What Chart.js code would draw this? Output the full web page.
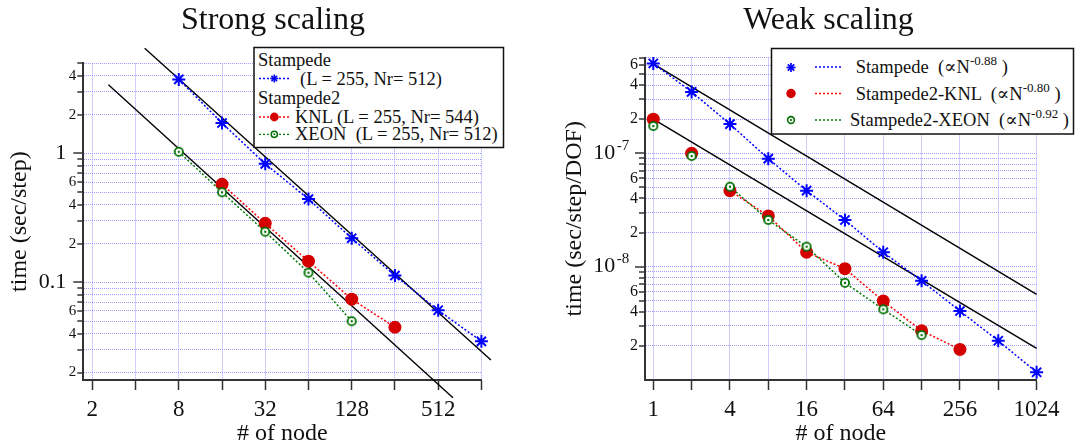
<!DOCTYPE html>
<html>
<head>
<meta charset="utf-8">
<script src="https://cdn.jsdelivr.net/npm/chart.js@4.4.1/dist/chart.umd.min.js"></script>
<style>
html,body{margin:0;padding:0;background:#fff;}
#wrap{position:relative;width:1075px;height:446px;overflow:hidden;background:#fff;}
canvas{position:absolute;top:0;}
#c1{left:0;}
#c2{left:540px;}
.title{position:absolute;font-family:"Liberation Serif","DejaVu Serif",serif;font-size:32px;line-height:32px;color:#111;text-align:center;white-space:nowrap;}
#ov{position:absolute;left:0;top:0;}
#ov text{font-family:"Liberation Serif","DejaVu Serif",serif;font-size:18.5px;fill:#111;white-space:pre;}
</style>
</head>
<body>
<div id="wrap">
<canvas id="c1" width="540" height="446"></canvas>
<canvas id="c2" width="535" height="446"></canvas>
<div class="title" style="left:73px;width:400px;top:2px;">Strong scaling</div>
<div class="title" style="left:628.5px;width:400px;top:2px;">Weak scaling</div>
<svg id="ov" width="1075" height="446" xmlns="http://www.w3.org/2000/svg">
  <!-- left legend -->
  <rect x="254" y="47.5" width="249.5" height="100" fill="#fff" stroke="#111" stroke-width="1.5"/>
  <text x="258" y="65.5">Stampede</text>
  <line x1="259" y1="78.5" x2="290" y2="78.5" stroke="#0000ff" stroke-width="1.3" stroke-dasharray="2 2"/>
  <g stroke="#0000ff" stroke-width="1.6">
    <line x1="270.3" y1="78.5" x2="278.3" y2="78.5"/><line x1="274.3" y1="74.5" x2="274.3" y2="82.5"/>
    <line x1="271.5" y1="75.7" x2="277.1" y2="81.3"/><line x1="271.5" y1="81.3" x2="277.1" y2="75.7"/>
  </g>
  <text x="300" y="84.5">(L = 255, Nr= 512)</text>
  <text x="258" y="103.5">Stampede2</text>
  <line x1="259" y1="117" x2="290" y2="117" stroke="#ff0000" stroke-width="1.3" stroke-dasharray="2 2"/>
  <circle cx="274.3" cy="117" r="4.4" fill="#d40000"/>
  <text x="295" y="122.7">KNL (L = 255, Nr= 544)</text>
  <line x1="259" y1="134.3" x2="290" y2="134.3" stroke="#007a00" stroke-width="1.3" stroke-dasharray="2 2"/>
  <circle cx="274.3" cy="134.3" r="3.1" fill="#fff" stroke="#007000" stroke-width="1.5"/>
  <circle cx="274.3" cy="134.3" r="1" fill="#007000"/>
  <text x="295" y="140">XEON  (L = 255, Nr= 512)</text>

  <!-- right legend -->
  <rect x="771.5" y="48.5" width="302" height="85.5" fill="#fff" stroke="#111" stroke-width="1.5"/>
  <g stroke="#0000ff" stroke-width="1.7">
    <line x1="786.5" y1="67.5" x2="795.5" y2="67.5"/><line x1="791" y1="63" x2="791" y2="72"/>
    <line x1="787.8" y1="64.3" x2="794.2" y2="70.7"/><line x1="787.8" y1="70.7" x2="794.2" y2="64.3"/>
  </g>
  <line x1="815" y1="67" x2="843" y2="67" stroke="#0000ff" stroke-width="1.3" stroke-dasharray="2 2"/>
  <text x="855.7" y="73.2">Stampede  (∝N<tspan font-size="13" dy="-8">-0.88</tspan><tspan dy="8"> )</tspan></text>
  <circle cx="791" cy="93.5" r="4.7" fill="#d40000"/>
  <line x1="815" y1="93.5" x2="843" y2="93.5" stroke="#ff0000" stroke-width="1.3" stroke-dasharray="2 2"/>
  <text x="855.7" y="99.7">Stampede2-KNL  (∝N<tspan font-size="13" dy="-8">-0.80</tspan><tspan dy="8"> )</tspan></text>
  <circle cx="791" cy="120" r="3.4" fill="#fff" stroke="#007000" stroke-width="1.6"/>
  <circle cx="791" cy="120" r="1.1" fill="#007000"/>
  <line x1="815" y1="120" x2="843" y2="120" stroke="#007a00" stroke-width="1.3" stroke-dasharray="2 2"/>
  <text x="850" y="126.2">Stampede2-XEON  (∝N<tspan font-size="13" dy="-8">-0.92</tspan><tspan dy="8"> )</tspan></text>
</svg>
</div>
<script>
// ---------------- data : strong scaling ----------------
const strongNodes        = [8, 16, 32, 64, 128, 256, 512, 1024];
const strongStampede     = [3.75, 1.72, 0.83, 0.443, 0.220, 0.113, 0.0608, 0.0349];
const strongKnlNodes     = [16, 32, 64, 128, 256];
const strongKnl          = [0.577, 0.287, 0.146, 0.0741, 0.0449];
const strongXeonNodes    = [8, 16, 32, 64, 128];
const strongXeon         = [1.03, 0.50, 0.247, 0.119, 0.050];
const strongRefUpperX    = [4.63, 1193];
const strongRefUpperY    = [6.54, 0.0250];
const strongRefLowerX    = [2.59, 649];
const strongRefLowerY    = [3.41, 0.01277];
const strongXTicks       = [2, 4, 8, 16, 32, 64, 128, 256, 512, 1024];
const strongXLabeled     = [2, 8, 32, 128, 512];
const strongYTicks       = [0.02,0.03,0.04,0.05,0.06,0.07,0.08,0.09,0.1,0.2,0.3,0.4,0.5,0.6,0.7,0.8,0.9,1,2,3,4,5];
const strongYMajors      = [0.1, 1];
const strongYLabels      = [[0.02,'2'],[0.04,'4'],[0.06,'6'],[0.1,'0.1'],[0.2,'2'],[0.4,'4'],[0.6,'6'],[1,'1'],[2,'2'],[4,'4']];

// ---------------- data : weak scaling ----------------
const weakNodes          = [1, 2, 4, 8, 16, 32, 64, 128, 256, 512, 1024];
const weakStampede       = [6.2e-7, 3.48e-7, 1.81e-7, 8.97e-8, 4.68e-8, 2.58e-8, 1.34e-8, 7.5e-9, 4.06e-9, 2.22e-9, 1.17e-9];
const weakKnlNodes       = [1, 2, 4, 8, 16, 32, 64, 128, 256];
const weakKnl            = [2.0e-7, 1.0e-7, 4.68e-8, 2.8e-8, 1.34e-8, 9.6e-9, 4.97e-9, 2.72e-9, 1.86e-9];
const weakXeonNodes      = [1, 2, 4, 8, 16, 32, 64, 128];
const weakXeon           = [1.74e-7, 9.46e-8, 5.07e-8, 2.58e-8, 1.5e-8, 7.2e-9, 4.2e-9, 2.49e-9];
const weakRefUpperX      = [1, 1024];
const weakRefUpperY      = [6.14e-7, 5.7e-9];
const weakRefLowerX      = [1, 1024];
const weakRefLowerY      = [2.0e-7, 1.9e-9];
const weakXTicks         = [1, 2, 4, 8, 16, 32, 64, 128, 256, 512, 1024];
const weakXLabeled       = [1, 4, 16, 64, 256, 1024];
const weakYTicks         = [2e-9,3e-9,4e-9,5e-9,6e-9,7e-9,8e-9,9e-9,1e-8,2e-8,3e-8,4e-8,5e-8,6e-8,7e-8,8e-8,9e-8,1e-7,2e-7,3e-7,4e-7,5e-7,6e-7,7e-7];
const weakYMajors        = [1e-8, 1e-7];
const weakYLabels        = [[2e-9,'2'],[4e-9,'4'],[6e-9,'6'],[1e-8,'10|-8'],[2e-8,'2'],[4e-8,'4'],[6e-8,'6'],[1e-7,'10|-7'],[2e-7,'2'],[4e-7,'4'],[6e-7,'6']];

// ---------------- styling ----------------
const FONT = '"Liberation Serif", "DejaVu Serif", serif';
const GRID = '#9e9eff';
const AXIS = '#333';
const BLUE = '#0000ff', RED_PT = '#d40000', RED_LN = '#ff0000', GREEN_PT = '#007000', GREEN_LN = '#007a00';

function pts(xs, ys) { return xs.map((x, i) => ({x: x, y: ys[i]})); }

function ringImage(rOuter, lw, color) {
  const s = 12, m = 6;
  const c = document.createElement('canvas'); c.width = s; c.height = s;
  const g = c.getContext('2d');
  g.beginPath(); g.arc(m, m, rOuter - lw / 2, 0, Math.PI * 2);
  g.fillStyle = '#fff'; g.fill();
  g.lineWidth = lw; g.strokeStyle = color; g.stroke();
  g.beginPath(); g.arc(m, m, 1.2, 0, Math.PI * 2); g.fillStyle = color; g.fill();
  return c;
}
const RING = ringImage(5, 1.8, GREEN_PT);

const yTickPlugin = {
  id: 'yTickMarks',
  afterDraw(chart, args, o) {
    const ys = chart.scales.y, ctx = chart.ctx, L = chart.chartArea.left;
    ctx.save();
    ctx.strokeStyle = AXIS; ctx.lineWidth = 1.5;
    o.ticks.forEach(v => {
      const y = Math.round(ys.getPixelForValue(v));
      const len = o.majors.includes(v) ? 10 : 6;
      ctx.beginPath(); ctx.moveTo(L, y); ctx.lineTo(L - len, y); ctx.stroke();
    });
    ctx.fillStyle = '#111'; ctx.textAlign = 'right';
    o.labels.forEach(([v, txt]) => {
      const y = ys.getPixelForValue(v);
      if (o.majors.includes(v)) {
        if (txt.indexOf('|') >= 0) {
          const parts = txt.split('|');
          ctx.font = o.supSize + 'px ' + FONT; ctx.textBaseline = 'alphabetic';
          ctx.fillText(parts[1], L - o.supGap, y - 3.3);
          const ew = ctx.measureText(parts[1]).width;
          ctx.font = o.majorSize + 'px ' + FONT; ctx.textBaseline = 'middle';
          ctx.fillText(parts[0], L - o.supGap - ew - 1.5, y);
        } else {
          ctx.font = o.majorSize + 'px ' + FONT; ctx.textBaseline = 'middle';
          ctx.fillText(txt, L - o.majorGap, y);
        }
      } else {
        ctx.font = o.minorSize + 'px ' + FONT; ctx.textBaseline = 'middle';
        ctx.fillText(txt, L - o.minorGap, y);
      }
    });
    ctx.restore();
  }
};

function xScale(min, max, ticks, labeled) {
  return {
    type: 'logarithmic', position: 'bottom', min: min, max: max,
    afterBuildTicks: s => { s.ticks = ticks.map(v => ({value: v})); },
    afterFit: s => { s.height = 66; },
    ticks: { autoSkip: false, maxRotation: 0, minRotation: 0, padding: 8.5, color: '#111',
      font: { family: FONT, size: 23, lineHeight: '23px' },
      callback: v => labeled.includes(v) ? String(v) : '' },
    grid: { color: GRID, lineWidth: 1, drawTicks: true, tickLength: 10, tickColor: AXIS, tickWidth: 1.5, tickBorderDash: [] },
    border: { display: true, color: AXIS, width: 2, dash: [1, 1] },
    title: { display: true, text: '# of node', color: '#111', font: { family: FONT, size: 24, lineHeight: '24px' }, padding: { top: 0, bottom: 0 } }
  };
}
function yScale(min, max, ticks, title, width) {
  return {
    type: 'logarithmic', position: 'left', min: min, max: max,
    afterBuildTicks: s => { s.ticks = ticks.map(v => ({value: v})); },
    afterFit: s => { s.width = width; },
    ticks: { display: false },
    grid: { color: GRID, lineWidth: 1, drawTicks: false },
    border: { display: true, color: AXIS, width: 2, dash: [1, 1] },
    title: { display: true, text: title, color: '#111', font: { family: FONT, size: 24, lineHeight: '28.8px' }, padding: { top: 0, bottom: 0 } }
  };
}

function lineDs(data, lineColor, ptStyle, ptColor, radius, extra) {
  return Object.assign({
    data: data, showLine: true, borderColor: lineColor, borderWidth: 1.5, borderDash: [2, 2],
    pointStyle: ptStyle, pointRadius: radius, pointBackgroundColor: ptColor, pointBorderColor: ptColor,
    pointBorderWidth: 2, tension: 0, fill: false, clip: false
  }, extra || {});
}
function refDs(data) {
  return { data: data, showLine: true, borderColor: '#000', borderWidth: 1.4, pointRadius: 0, tension: 0, fill: false, clip: false };
}

const common = {
  responsive: false, animation: false, events: [],
  plugins: { legend: { display: false }, tooltip: { enabled: false }, title: { display: false } }
};

// ---------------- strong scaling chart ----------------
new Chart(document.getElementById('c1'), {
  type: 'scatter',
  data: { datasets: [
    lineDs(pts(strongXeonNodes, strongXeon), GREEN_LN, RING, GREEN_PT, 5),
    lineDs(pts(strongKnlNodes, strongKnl), RED_LN, 'circle', RED_PT, 6.5, { pointBorderWidth: 0 }),
    lineDs(pts(strongNodes, strongStampede), BLUE, 'star', BLUE, 6.5),
    refDs(pts(strongRefUpperX, strongRefUpperY)),
    refDs(pts(strongRefLowerX, strongRefLowerY))
  ]},
  options: Object.assign({}, common, {
    layout: { padding: { left: 5.2, right: 58.6, top: 63.3, bottom: 0 } },
    scales: {
      x: xScale(1.731, 1024, strongXTicks, strongXLabeled),
      y: yScale(0.0175, 5, strongYTicks, 'time (sec/step)', 78.1)
    },
    plugins: Object.assign({}, common.plugins, {
      yTickMarks: { ticks: strongYTicks, majors: strongYMajors, labels: strongYLabels,
        majorSize: 22, minorSize: 15, majorGap: 17, minorGap: 7, supSize: 15, supGap: 15.7 }
    })
  }),
  plugins: [yTickPlugin]
});

// ---------------- weak scaling chart ----------------
const hideFirstTwo = color => ({ borderColor: c => c.p0DataIndex < 2 ? 'rgba(0,0,0,0)' : color });
new Chart(document.getElementById('c2'), {
  type: 'scatter',
  data: { datasets: [
    lineDs(pts(weakXeonNodes, weakXeon), GREEN_LN, RING, GREEN_PT, 5, { segment: hideFirstTwo(GREEN_LN) }),
    lineDs(pts(weakKnlNodes, weakKnl), RED_LN, 'circle', RED_PT, 6.5, { pointBorderWidth: 0, segment: hideFirstTwo(RED_LN) }),
    lineDs(pts(weakNodes, weakStampede), BLUE, 'star', BLUE, 6.5),
    refDs(pts(weakRefUpperX, weakRefUpperY)),
    refDs(pts(weakRefLowerX, weakRefLowerY))
  ]},
  options: Object.assign({}, common, {
    layout: { padding: { left: 20.8, right: 38.4, top: 57.5, bottom: 0 } },
    scales: {
      x: xScale(0.8607, 1024, weakXTicks, weakXLabeled),
      y: yScale(1e-9, 7e-7, weakYTicks, 'time (sec/step/DOF)', 84.2)
    },
    plugins: Object.assign({}, common.plugins, {
      yTickMarks: { ticks: weakYTicks, majors: weakYMajors, labels: weakYLabels,
        majorSize: 22, minorSize: 16, majorGap: 17, minorGap: 7, supSize: 15, supGap: 15.7 }
    })
  }),
  plugins: [yTickPlugin]
});
</script>
</body>
</html>
